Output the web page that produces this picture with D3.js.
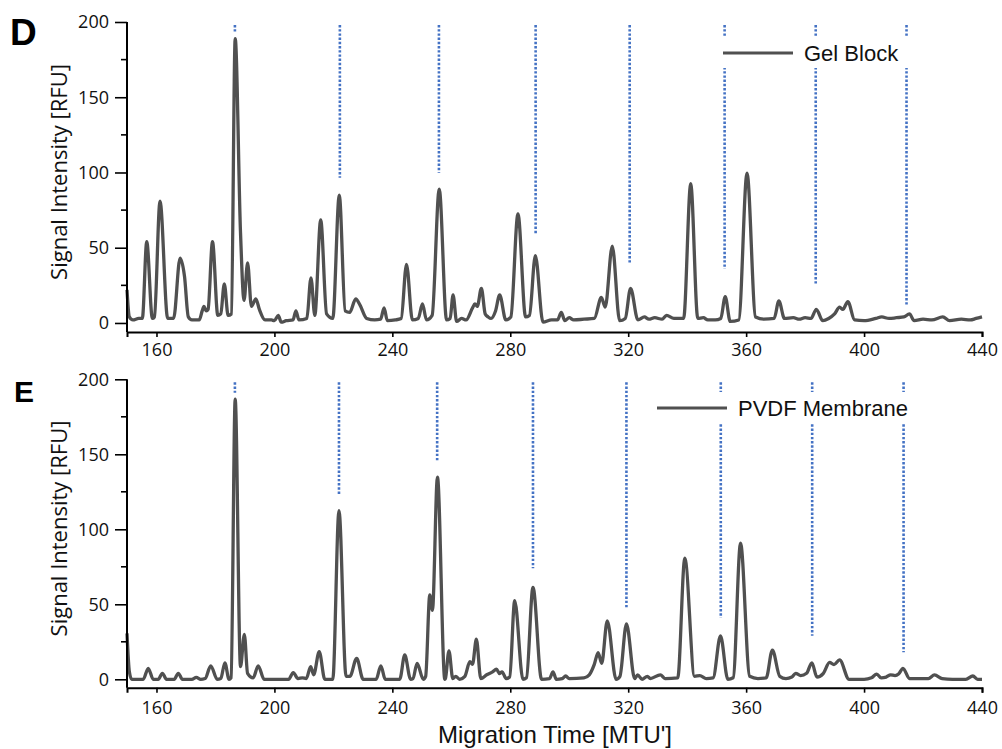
<!DOCTYPE html>
<html>
<head>
<meta charset="utf-8">
<script src="https://cdn.jsdelivr.net/npm/d3@7"></script>
<style>
  body { margin: 0; background: #fff; }
  svg { display: block; }
</style>
</head>
<body>
<svg width="1002" height="749"></svg>
<script>
// trace points: [migration time, RFU]
var gelBlock = [
  [150, 22], [150.8, 4], [152, 2], [154, 3], [155.2, 3], [156.7, 54], [158.6, 3], [159.3, 4],
  [161.2, 81], [163.8, 3], [165.8, 3], [168, 43], [169.5, 31], [170.8, 4], [172, 2], [174.5, 2],
  [175.5, 8], [176.1, 11], [176.9, 8], [177.5, 9], [179, 54], [180.8, 5], [181.8, 6], [183, 26],
  [184.3, 5], [185.4, 6], [186.7, 189], [188.5, 60], [189.7, 15], [190.9, 40], [192.2, 11],
  [193.7, 16], [194.9, 9], [196.8, 2], [199, 2], [200, 1.5], [201.3, 5], [202.3, 0.5], [204, 1.5],
  [206.3, 2], [207.3, 8], [208.3, 2], [211, 3], [212.4, 30], [213.7, 5], [215.7, 68.5], [217.7, 6],
  [219.8, 3], [222, 85], [224, 8], [225.5, 7], [227.6, 16], [229, 12], [231.3, 3], [234, 2],
  [236, 2.5], [237.2, 10], [238.3, 1.5], [241, 2], [243, 3], [244.8, 39], [246.8, 2], [248.8, 3],
  [250.2, 12.6], [251.6, 2], [253.5, 5], [255.9, 89], [258.4, 2], [259.6, 3], [260.6, 18.6],
  [261.8, 1], [263.5, 3], [265, 2], [267.2, 10], [268, 12.6], [268.8, 11], [270.2, 23], [271.5, 6],
  [272.5, 4], [273.5, 3], [275, 8], [276.4, 18.6], [278.5, 2], [280.2, 4], [282.6, 72.5],
  [285.2, 4], [286.5, 5], [288.5, 44.8], [291.1, 0.5], [294, 2], [296, 2], [297.3, 7], [298.5, 1.5],
  [300, 3.5], [301.5, 2], [305, 2.5], [308.5, 3], [310.9, 17], [312.2, 10.5], [314.6, 51],
  [317.1, 1.5], [319, 3], [320.8, 23], [323.3, 2], [325.5, 4], [327, 2.5], [329, 3.5], [331.5, 2.5],
  [333, 5], [335.5, 3], [338.8, 3], [341.2, 92.5], [343.6, 3], [345.5, 3.5], [347, 2], [349.5, 2],
  [351.4, 3], [352.9, 17.5], [354.6, 1], [357.5, 2], [360.3, 99.6], [363.2, 4], [366, 2.5],
  [369.5, 3], [371.1, 14.6], [373, 3], [376, 3.5], [378, 2.5], [380, 3.5], [382, 3], [383.8, 9],
  [386, 1.5], [388, 3], [390, 6], [391.7, 10.5], [392.8, 9], [394.5, 14.2], [396.8, 2], [400, 1.5],
  [404, 3], [406, 4], [408.5, 3], [411, 3.5], [413.5, 4], [415.4, 6], [417, 1.5], [420, 2.5],
  [423, 2], [426.7, 4], [429, 1.5], [433, 2.5], [436, 2], [438, 3], [440, 4]
]

var pvdfMembrane = [
  [150, 30.6], [150.8, 5], [151.6, 0], [155.5, 0], [157.2, 7.3], [158.9, 0], [160.6, 0], [162, 4],
  [163.4, 0], [166, 0], [167.4, 4], [168.8, 0], [172, 0], [173.5, 1.3], [175, 0], [176.5, 0.5],
  [178.4, 9], [180.6, 0], [181.8, 0.5], [183.2, 11], [184.6, 0], [185.3, 1], [186.7, 186.7],
  [188.5, 8.5], [189.8, 30], [190.9, 4], [192.8, 1], [194.5, 9], [196.5, 0], [204.8, 0],
  [206.4, 4.4], [208, 0.5], [209.5, 1], [210.8, 0.5], [212.3, 8.5], [213.3, 3], [215.2, 18.4],
  [217.1, 0], [219.8, 0], [221.9, 112.4], [224.3, 2], [225.6, 2], [227.9, 14], [230.1, 0],
  [234.5, 0], [236.1, 9], [237.6, 0], [242.5, 0], [244.2, 16.2], [246.2, 0], [247, 0.5],
  [248.4, 10.6], [250.5, 0], [251.3, 2], [252.7, 56.2], [253.6, 46], [255.3, 134.7], [257.8, 0],
  [258, 0.5], [259.2, 19], [260.5, 0.5], [261.5, 2], [262.8, 0], [264.6, 2], [266.3, 11.7],
  [267.2, 10], [268.5, 26.7], [270, 0.5], [272, 3], [274, 5], [275.3, 6.7], [276.4, 3.8],
  [277.2, 5], [278.6, 0.5], [279.8, 1.5], [281.5, 52.4], [284.3, 0], [285.5, 1], [287.7, 61.3],
  [290.6, 0], [293.3, 0.5], [294.5, 5], [295.6, 0], [297.6, 0.5], [298.8, 2.2], [300, 0.5],
  [305, 1], [306.8, 3], [308.5, 10], [309.8, 17.8], [311, 10.6], [312.9, 39], [315.9, 0],
  [317.2, 2], [319.4, 36.9], [322.2, 0.5], [323.2, 3], [324.7, 0], [326.5, 2], [327.5, 0.5],
  [330.9, 3], [332.5, 0.5], [336.8, 1], [339.2, 80.7], [342.5, 2], [344.3, 2.5], [346.5, 0.5],
  [348.8, 1], [351.3, 28.9], [353.8, 0], [355.6, 1], [358.1, 90.7], [361.2, 2], [364, 0.5],
  [366.8, 1], [368.9, 19.5], [371.4, 2], [373.5, 0.5], [375.5, 1.5], [376.8, 4], [378.5, 2.5],
  [380.5, 4], [382.3, 11], [384, 1.5], [386.2, 4], [388.3, 11.3], [389.8, 9.8], [391.7, 12.9],
  [394.9, 0], [400, 0], [402.5, 1], [404.3, 3.5], [405.8, 1], [407.5, 1.5], [409, 3], [410.5, 2.5],
  [411.7, 3.5], [413.2, 7.3], [415.4, 0.5], [418, 0.5], [421.8, 0.5], [423.9, 2.9], [426.5, 0.5],
  [430, 0], [434.5, 0], [436.9, 2.2], [438.5, 0], [440, 0]
]

// blue dotted reference lines: position and lower end (RFU)
var markersD = [186.6, 222.2, 255.8, 288.6, 320.5, 352.7, 383.6, 414.4]
var markerLowD = [193, 96.5, 99.8, 58.5, 40, 36, 26, 12]
var markersE = [186.6, 221.9, 255.2, 287.7, 319.4, 351.4, 382.4, 413.4]
var markerLowE = [191, 123, 145, 74, 47, 41, 29, 18]

var xTicks = [160, 200, 240, 280, 320, 360, 400, 440]
var yTicks = [0, 50, 100, 150, 200]
var yMinor = [25, 75, 125, 175]

var svg = d3.select('svg')
var x = d3.scaleLinear().domain([150, 440]).range([127, 982])

function panel (opts) {
  var g = svg.append('g')
  var y = d3.scaleLinear().domain([opts.yMin, 200]).range([opts.bottom, opts.top])

  // dotted markers
  g.selectAll('line.marker')
    .data(opts.markers)
    .enter().append('line')
    .attr('class', 'marker')
    .attr('x1', function (d) { return x(d) })
    .attr('x2', function (d) { return x(d) })
    .attr('y1', y(198))
    .attr('y2', function (d, i) { return y(opts.low[i]) })
    .attr('stroke', '#4472c4')
    .attr('stroke-width', 2.6)
    .attr('stroke-dasharray', '2.4,1.8')

  // legend with white box over markers
  var lg = g.append('g')
  lg.append('rect')
    .attr('x', opts.legend.box[0]).attr('y', opts.legend.box[1])
    .attr('width', opts.legend.box[2]).attr('height', opts.legend.box[3])
    .attr('fill', '#fff')
  lg.append('line')
    .attr('x1', opts.legend.x).attr('x2', opts.legend.x + 70)
    .attr('y1', opts.legend.y).attr('y2', opts.legend.y)
    .attr('stroke', '#505050').attr('stroke-width', 3.2)
  lg.append('text')
    .attr('x', opts.legend.x + 81).attr('y', opts.legend.y + 8)
    .attr('font-family', 'Liberation Sans, Arial, sans-serif')
    .attr('font-size', 22)
    .attr('fill', '#111')
    .text(opts.legend.label)

  // trace
  var line = d3.line()
    .x(function (d) { return x(d[0]) })
    .y(function (d) { return y(d[1]) })
    .curve(d3.curveMonotoneX)
  g.append('path')
    .attr('d', line(opts.data))
    .attr('fill', 'none')
    .attr('stroke', '#505050')
    .attr('stroke-width', 3.3)
    .attr('stroke-linejoin', 'round')

  // axes
  var yAxis = g.append('g')
    .attr('transform', 'translate(127,0)')
    .call(d3.axisLeft(y).tickValues(yTicks).tickSize(12).tickPadding(6))
  yAxis.append('g').selectAll('line')
    .data(yMinor)
    .enter().append('line')
    .attr('x1', -6).attr('x2', 0)
    .attr('y1', function (d) { return y(d) })
    .attr('y2', function (d) { return y(d) })
    .attr('stroke', '#000').attr('stroke-width', 1.6)
  yAxis.select('.domain').attr('d', 'M0,' + opts.top + 'V' + opts.bottom)

  g.append('g')
    .attr('transform', 'translate(0,' + opts.bottom + ')')
    .call(d3.axisBottom(x).tickValues(xTicks).tickSize(5).tickPadding(opts.xPad))

  g.selectAll('.domain').attr('stroke', '#000').attr('stroke-width', 2)
  g.selectAll('.tick line').attr('stroke', '#000').attr('stroke-width', 1.6)
  g.selectAll('.tick text')
    .attr('font-family', 'Open Sans, sans-serif')
    .attr('font-size', 18)
    .attr('fill', '#111')

  // y title
  g.append('text')
    .attr('transform', 'translate(67,' + ((opts.top + opts.bottom) / 2 - 5) + ') rotate(-90)')
    .attr('text-anchor', 'middle')
    .attr('font-family', 'Open Sans, sans-serif')
    .attr('font-size', 22)
    .attr('fill', '#111')
    .text('Signal Intensity [RFU]')

  // panel letter
  g.append('text')
    .attr('x', opts.letterPos[0]).attr('y', opts.letterPos[1])
    .attr('font-family', 'Liberation Sans, Arial, sans-serif')
    .attr('font-weight', 'bold')
    .attr('font-size', opts.letterSize)
    .text(opts.letter)
}

panel({
  data: gelBlock, markers: markersD, low: markerLowD,
  top: 22, bottom: 332, yMin: -6, xPad: 6,
  legend: { x: 723, y: 53, label: 'Gel Block', box: [712, 37, 203, 31] },
  letter: 'D', letterPos: [10, 45], letterSize: 37
})

panel({
  data: pvdfMembrane, markers: markersE, low: markerLowE,
  top: 379.3, bottom: 687.7, yMin: -5.6, xPad: 9,
  legend: { x: 657, y: 408, label: 'PVDF Membrane', box: [648, 392, 270, 31] },
  letter: 'E', letterPos: [14, 402], letterSize: 30
})

svg.append('text')
  .attr('x', 555).attr('y', 743)
  .attr('text-anchor', 'middle')
  .attr('font-family', 'Liberation Sans, Arial, sans-serif')
  .attr('font-size', 24)
  .attr('fill', '#111')
  .text("Migration Time [MTU']")
</script>
</body>
</html>
